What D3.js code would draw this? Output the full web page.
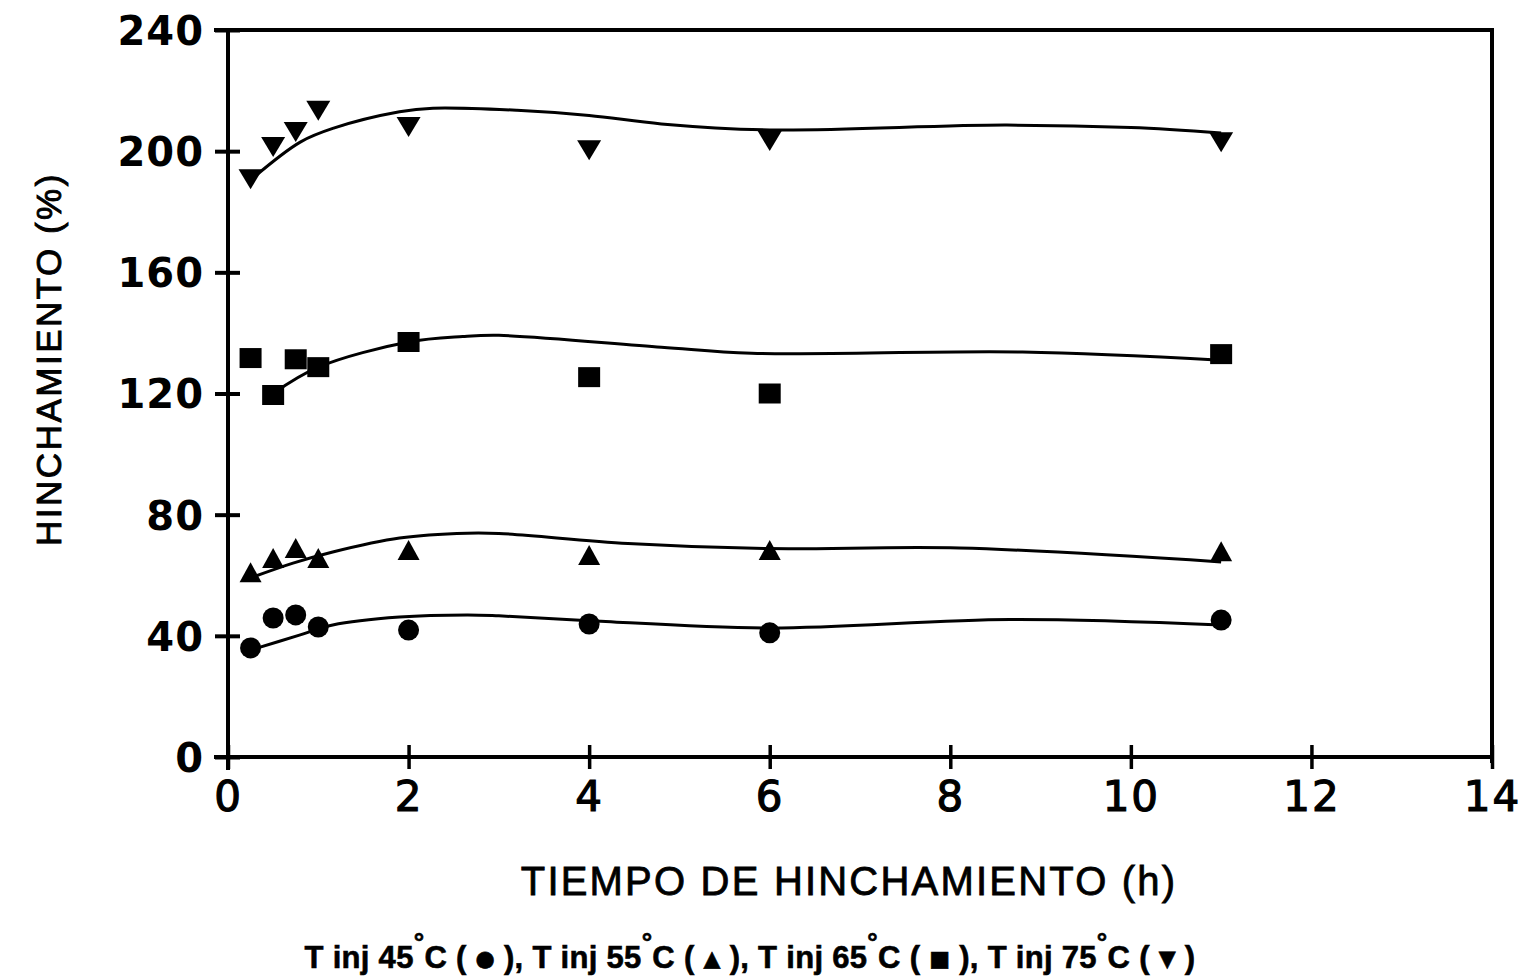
<!DOCTYPE html>
<html>
<head>
<meta charset="utf-8">
<script src="https://cdn.jsdelivr.net/npm/d3@7"></script>
<style>
  html, body { margin: 0; padding: 0; background: #fff; }
  svg { display: block; }
</style>
</head>
<body>
<svg id="chart" width="1537" height="980"></svg>
<script>
// Swelling (%) versus swelling time (h) for four injection temperatures
const hours = [0.25, 0.5, 0.75, 1, 2, 4, 6, 11];
const swell45 = [36, 45.9, 46.9, 42.9, 41.9, 43.9, 41, 45.2];
const swell55 = [60.3, 65, 68.3, 65, 67.7, 66, 67.7, 67.3];
const swell65 = [131.7, 119.5, 131.3, 128.7, 137, 125.4, 120, 133];
const swell75 = [191.4, 202, 207, 214, 208.6, 201, 204, 203.6];

// Fitted trend curves
const fit45Hours = [0.25, 0.8, 1.16, 1.9, 2.65, 3.0, 4.0, 6.0, 8.66, 11];
const fit45 = [35.3, 40.3, 43.6, 46.2, 46.9, 46.6, 45.0, 42.6, 45.4, 43.6];
const fit55Hours = [0.22, 0.72, 1.16, 1.9, 2.65, 3.0, 4.43, 5.97, 8.1, 11];
const fit55 = [58.8, 64, 67.7, 72.3, 73.9, 73.8, 70.5, 68.8, 69, 64.4];
const fit65Hours = [0.5, 1, 2, 2.6, 3.0, 4.8, 5.8, 8.8, 11];
const fit65 = [120, 128.7, 137, 138.8, 139.2, 135.3, 133.3, 133.7, 131];
const fit75Hours = [0.25, 0.8, 1.17, 1.9, 2.27, 3.2, 4.0, 4.8, 6, 8.6, 10, 11];
const fit75 = [190.5, 203, 207.6, 213, 214.2, 213.5, 211.8, 209, 207, 208.6, 207.8, 206];

const xTicks = [0, 2, 4, 6, 8, 10, 12, 14];
const yTicks = [0, 40, 80, 120, 160, 200, 240];

const xTitle = "TIEMPO DE HINCHAMIENTO (h)";
const yTitle = "HINCHAMIENTO (%)";
const legendTemps = ["45", "55", "65", "75"];
const legendGlyphs = ["\u25CF", "\u25B2", "\u25A0", "\u25BC"];

const svg = d3.select("#chart");
const x = d3.scaleLinear().domain([0, 14]).range([228, 1492]);
const y = d3.scaleLinear().domain([0, 240]).range([757, 30]);

const ink = "#000";

// Frame: top and right borders
svg.append("line")
  .attr("x1", x(0) - 14).attr("x2", x(14))
  .attr("y1", y(240)).attr("y2", y(240))
  .attr("stroke", ink).attr("stroke-width", 4);
svg.append("line")
  .attr("x1", x(14)).attr("x2", x(14))
  .attr("y1", y(240) - 2).attr("y2", y(0) + 6)
  .attr("stroke", ink).attr("stroke-width", 4);

// Y axis
const yAxis = svg.append("g")
  .attr("transform", `translate(${x(0)},0)`)
  .call(d3.axisLeft(y).tickValues(yTicks).tickSize(13).tickPadding(12));
yAxis.select(".domain").attr("stroke", ink).attr("stroke-width", 4)
  .attr("d", `M0,${y(240) - 2}V${y(0) + 13}`);
yAxis.selectAll(".tick line").attr("stroke", ink).attr("stroke-width", 4)
  .attr("x1", 12).attr("x2", -13);
yAxis.selectAll(".tick text")
  .attr("font-family", "'DejaVu Sans', sans-serif")
  .attr("font-weight", "bold")
  .attr("font-size", 40)
  .attr("letter-spacing", 1)
  .attr("fill", ink)
  .attr("x", -24)
  .attr("dy", "0.36em");

// X axis
const xAxis = svg.append("g")
  .attr("transform", `translate(0,${y(0)})`)
  .call(d3.axisBottom(x).tickValues(xTicks).tickSize(13).tickPadding(10));
xAxis.select(".domain").attr("stroke", ink).attr("stroke-width", 4)
  .attr("d", `M${x(0) - 14},0H${x(14)}`);
xAxis.selectAll(".tick line").attr("stroke", ink).attr("stroke-width", 3.5)
  .attr("y1", -12).attr("y2", 12);
xAxis.selectAll(".tick text")
  .attr("font-family", "'DejaVu Sans', sans-serif")
  .attr("font-size", 42)
  .attr("letter-spacing", 2)
  .attr("fill", ink)
  .attr("stroke", ink)
  .attr("stroke-width", 1.2)
  .attr("y", 24)
  .attr("dy", "0.71em");

// Axis titles
svg.append("text")
  .attr("x", 849).attr("y", 895)
  .attr("text-anchor", "middle")
  .attr("font-family", "'Liberation Sans', Arial, sans-serif")
  .attr("font-size", 40)
  .attr("letter-spacing", 2.2)
  .attr("fill", ink).attr("stroke", ink).attr("stroke-width", 0.8)
  .text(xTitle);

svg.append("text")
  .attr("transform", "translate(61,359) rotate(-90)")
  .attr("text-anchor", "middle")
  .attr("font-family", "'Liberation Sans', Arial, sans-serif")
  .attr("font-size", 35)
  .attr("letter-spacing", 2.5)
  .attr("fill", ink).attr("stroke", ink).attr("stroke-width", 0.9)
  .text(yTitle);

// Trend curves
const line = d3.line()
  .x(d => x(d[0]))
  .y(d => y(d[1]))
  .curve(d3.curveCatmullRom.alpha(0.5));

const fits = [
  [fit45Hours, fit45],
  [fit55Hours, fit55],
  [fit65Hours, fit65],
  [fit75Hours, fit75]
];
svg.append("g").selectAll("path")
  .data(fits)
  .join("path")
  .attr("d", ([h, v]) => line(h.map((t, i) => [t, v[i]])))
  .attr("fill", "none")
  .attr("stroke", ink)
  .attr("stroke-width", 3);

// Data markers
const series = [
  { values: swell45, shape: "circle" },
  { values: swell55, shape: "up" },
  { values: swell65, shape: "square" },
  { values: swell75, shape: "down" }
];

function markerPath(shape) {
  if (shape === "circle") {
    return d3.symbol(d3.symbolCircle, Math.PI * 10.5 * 10.5)();
  }
  if (shape === "square") {
    return "M-11,-10H11V10H-11Z";
  }
  if (shape === "up") {
    return "M0,-12L11,8H-11Z";
  }
  return "M-12,-8H12L0,12Z";
}

const markers = svg.append("g");
series.forEach(s => {
  markers.append("g").selectAll("path")
    .data(hours.map((h, i) => [h, s.values[i]]))
    .join("path")
    .attr("transform", d => `translate(${x(d[0])},${y(d[1])})`)
    .attr("d", markerPath(s.shape))
    .attr("fill", ink);
});

// Legend line under the axis title
const legend = svg.append("text")
  .attr("x", 750).attr("y", 968)
  .attr("text-anchor", "middle")
  .attr("font-family", "'Liberation Sans', Arial, sans-serif")
  .attr("font-weight", "bold")
  .attr("font-size", 31)
  .attr("letter-spacing", 0.3)
  .attr("fill", ink)
  .attr("stroke", ink)
  .attr("stroke-width", 0.6);

legendTemps.forEach((t, i) => {
  legend.append("tspan").text(`T inj ${t}`);
  legend.append("tspan").attr("dy", -17).attr("font-size", 26).text("\u00B0");
  legend.append("tspan").attr("dy", 17).text("C ( ");
  legend.append("tspan")
    .attr("font-family", "'DejaVu Sans', sans-serif")
    .attr("font-size", 22).attr("dy", -2).text(legendGlyphs[i]);
  legend.append("tspan").attr("dy", 2).text(i < legendTemps.length - 1 ? " ), " : " )");
});
</script>
</body>
</html>
